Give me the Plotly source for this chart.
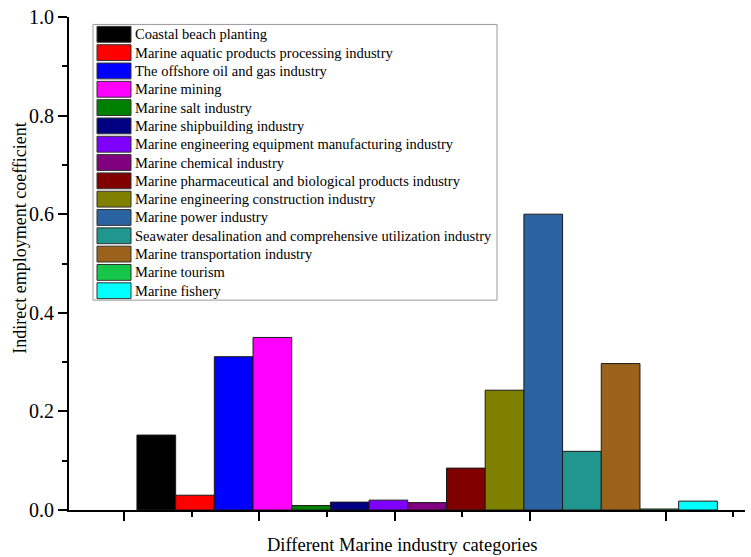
import plotly.graph_objects as go

categories = [
    "Coastal beach planting",
    "Marine aquatic products processing industry",
    "The offshore oil and gas industry",
    "Marine mining",
    "Marine salt industry",
    "Marine shipbuilding industry",
    "Marine engineering equipment manufacturing industry",
    "Marine chemical industry",
    "Marine pharmaceutical and biological products industry",
    "Marine engineering construction industry",
    "Marine power industry",
    "Seawater desalination and comprehensive utilization industry",
    "Marine transportation industry",
    "Marine tourism",
    "Marine fishery",
]
values = [0.152, 0.030, 0.311, 0.350, 0.009, 0.016, 0.020, 0.015,
          0.085, 0.243, 0.600, 0.119, 0.297, 0.002, 0.018]
colors = ["#000000", "#FF0000", "#0000FF", "#FF00FF", "#008000", "#000080",
          "#8000FF", "#800080", "#800000", "#808000", "#2B63A1", "#20968F",
          "#9B621C", "#16C649", "#00FFFF"]

y_title = "Indirect employment coefficient"
x_title = "Different Marine industry categories"

x_major_ticks = [1, 2, 3, 4, 5]
x_minor_ticks = [1.5, 2.5, 3.5, 5.5]

W, H = 751, 557
L, R, T, B = 69, 6, 12, 47
PW = W - L - R
PH = H - T - B

x_range = [0.594, 5.587]
bar_start = 1.0959
bar_w = 0.2858

FONT = "Liberation Serif, Times New Roman, serif"


def px_x(p):
    return (p - L) / PW


def px_y(p):
    return (H - B - p) / PH


fig = go.Figure()
for i, (name, val, col) in enumerate(zip(categories, values, colors)):
    fig.add_trace(go.Bar(
        x=[bar_start + (i + 0.5) * bar_w], y=[val], width=bar_w, name=name,
        marker=dict(color=col, line=dict(color="#1a1a1a", width=1)),
        showlegend=False,
    ))

shapes = []
annotations = []
# legend box
shapes.append(dict(type="rect", xref="paper", yref="paper",
                   x0=px_x(93), x1=px_x(497), y0=px_y(298), y1=px_y(19.5),
                   line=dict(color="#9a9a9a", width=1), fillcolor="white", layer="above"))
for i, (name, col) in enumerate(zip(categories, colors)):
    cy = 29.5 + i * 18.5
    shapes.append(dict(type="rect", xref="paper", yref="paper",
                       x0=px_x(97), x1=px_x(131), y0=px_y(cy + 8), y1=px_y(cy - 8),
                       line=dict(color="#333333", width=1), fillcolor=col, layer="above"))
    annotations.append(dict(text=name, xref="paper", yref="paper",
                            x=px_x(133), y=px_y(cy), xanchor="left", yanchor="middle",
                            showarrow=False, font=dict(family=FONT, size=14.5, color="black")))

annotations.append(dict(text=y_title, xref="paper", yref="paper",
                        x=px_x(20), y=px_y(235), xanchor="center", yanchor="middle",
                        textangle=-90, showarrow=False,
                        font=dict(family=FONT, size=18, color="black")))
annotations.append(dict(text=x_title, xref="paper", yref="paper",
                        x=px_x(402), y=px_y(545), xanchor="center", yanchor="middle",
                        showarrow=False,
                        font=dict(family=FONT, size=18.5, color="black")))

fig.update_layout(
    width=W, height=H,
    margin=dict(l=L, r=R, t=T, b=B, pad=0),
    paper_bgcolor="white", plot_bgcolor="white",
    barmode="overlay",
    showlegend=False,
    font=dict(family=FONT, color="black"),
    shapes=shapes,
    annotations=annotations,
    xaxis=dict(
        range=x_range, showline=True, linecolor="black", linewidth=2,
        ticks="outside", ticklen=9, tickwidth=2, tickcolor="black",
        tickmode="array", tickvals=x_major_ticks,
        showticklabels=False, showgrid=False, zeroline=False,
        minor=dict(ticks="outside", ticklen=5, tickwidth=2, tickcolor="black",
                   tickmode="array", tickvals=x_minor_ticks, showgrid=False),
    ),
    yaxis=dict(
        range=[0, 1], showline=True, linecolor="black", linewidth=2,
        ticks="outside", ticklen=9, tickwidth=2, tickcolor="black",
        tick0=0, dtick=0.2, tickformat=".1f", showgrid=False, zeroline=False,
        tickfont=dict(family=FONT, size=20, color="black"),
        minor=dict(ticks="outside", ticklen=5, tickwidth=2, tickcolor="black",
                   tick0=0, dtick=0.1, showgrid=False),
    ),
)

fig.write_html("out.html")
